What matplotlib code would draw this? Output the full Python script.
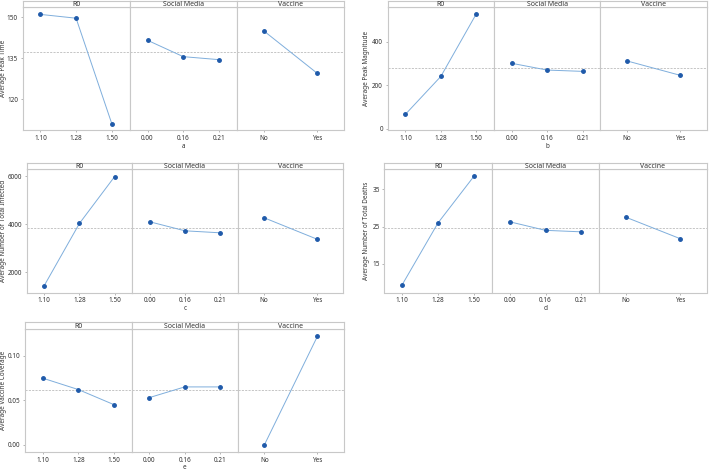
import matplotlib
matplotlib.use("Agg")
import matplotlib.pyplot as plt
import numpy as np

plt.rcParams['font.family'] = ['Noto Sans', 'DejaVu Sans']

# ---- data ----
factor_names = ["R0", "Social Media", "Vaccine"]
r0_levels = ["1.10", "1.28", "1.50"]
sm_levels = ["0.00", "0.16", "0.21"]
vac_levels = ["No", "Yes"]

peak_time_r0 = [151.1, 149.7, 111.0]
peak_time_sm = [141.6, 135.6, 134.5]
peak_time_vac = [145.1, 129.5]
peak_time_mean = 137.3

peak_mag_r0 = [66, 240, 527]
peak_mag_sm = [300, 269, 263]
peak_mag_vac = [311, 245]
peak_mag_mean = 277

infected_r0 = [1458, 4042, 5990]
infected_sm = [4108, 3733, 3650]
infected_vac = [4275, 3387]
infected_mean = 3830

deaths_r0 = [9.4, 26.0, 38.5]
deaths_sm = [26.3, 24.0, 23.6]
deaths_vac = [27.5, 21.8]
deaths_mean = 24.6

vcov_r0 = [0.0747, 0.062, 0.0452]
vcov_sm = [0.053, 0.065, 0.065]
vcov_vac = [0.0, 0.1217]
vcov_mean = 0.0612

ylabels = ["Average Peak Time", "Average Peak Magnitude",
           "Average Number of Total Infected", "Average Number of Total Deaths",
           "Average Vaccine Coverage"]
xlabels = ["a", "b", "c", "d", "e"]

W, H = 709, 472
fig = plt.figure(figsize=(W / 100, H / 100), dpi=100)

GRID = "#C8C8C8"
LINE = "#7FAEDC"
MARK = "#1F5AAA"
TXT = "#333333"
FS = 4.6

charts = [
    dict(series=[peak_time_r0, peak_time_sm, peak_time_vac], mean=peak_time_mean, ylx=4, xlo=16,
         box=(22.5, 344, 0.8, 7.3, 130), ylim=(108.7, 153.7), yticks=[120, 135, 150], fmt="{:.0f}"),
    dict(series=[peak_mag_r0, peak_mag_sm, peak_mag_vac], mean=peak_mag_mean, ylx=367, xlo=16,
         box=(387.7, 706.7, 0.8, 7.3, 130), ylim=(-6, 557), yticks=[0, 200, 400], fmt="{:.0f}"),
    dict(series=[infected_r0, infected_sm, infected_vac], mean=infected_mean, ylx=4, xlo=16,
         box=(26.7, 343.3, 162.7, 169.3, 292.5), ylim=(1167, 6292), yticks=[2000, 4000, 6000], fmt="{:.0f}"),
    dict(series=[deaths_r0, deaths_sm, deaths_vac], mean=deaths_mean, ylx=367, xlo=16,
         box=(384.3, 706.7, 162.7, 169.3, 292.5), ylim=(7.3, 40.4), yticks=[15, 25, 35], fmt="{:.0f}"),
    dict(series=[vcov_r0, vcov_sm, vcov_vac], mean=vcov_mean, ylx=4, xlo=15.5,
         box=(25.3, 344, 322, 329.3, 452.3), ylim=(-0.0082, 0.1295), yticks=[0.0, 0.05, 0.10], fmt="{:.2f}"),
]
level_sets = [r0_levels, sm_levels, vac_levels]

for ci, ch in enumerate(charts):
    x0, x1, ytop, ystrip, ybot = ch["box"]
    pw = (x1 - x0) / 3.0
    for pi in range(3):
        lx = x0 + pi * pw
        ax = fig.add_axes([lx / W, 1 - ybot / H, pw / W, (ybot - ystrip) / H])
        sax = fig.add_axes([lx / W, 1 - ystrip / H, pw / W, (ystrip - ytop) / H])
        sax.set_xticks([]); sax.set_yticks([])
        for s in sax.spines.values():
            s.set_color(GRID); s.set_linewidth(0.8)
        sax.text(0.5, 0.45, factor_names[pi], ha="center", va="center",
                 fontsize=FS + 0.4, color=TXT, transform=sax.transAxes)

        levels = level_sets[pi]
        vals = ch["series"][pi]
        xs = np.arange(len(levels))
        ax.axhline(ch["mean"], color="#BBBBBB", lw=0.6, ls=(0, (2.5, 1.5)), zorder=1)
        ax.plot(xs, vals, color=LINE, lw=0.7, zorder=2)
        ax.plot(xs, vals, ls="none", marker="o", ms=2.5, color=MARK, mec=MARK, zorder=3)
        ax.set_xlim(-0.5, len(levels) - 0.5)
        ax.set_ylim(*ch["ylim"])
        ax.set_xticks(xs)
        ax.set_xticklabels(levels)
        for s in ax.spines.values():
            s.set_color(GRID); s.set_linewidth(0.8)
        ax.tick_params(axis="x", length=1.5, width=0.5, color="#999999", pad=1.8,
                       labelsize=FS, labelcolor=TXT)
        if pi == 0:
            ax.set_yticks(ch["yticks"])
            ax.set_yticklabels([ch["fmt"].format(v) for v in ch["yticks"]])
            ax.tick_params(axis="y", length=1.5, width=0.5, color="#999999", pad=1.8,
                           labelsize=FS, labelcolor=TXT)
        else:
            ax.set_yticks([])
    fig.text(((x0 + x1) / 2) / W, 1 - (ybot + ch["xlo"]) / H, xlabels[ci],
             ha="center", va="center", fontsize=FS, color=TXT)
    fig.text(ch["ylx"] / W, 1 - ((ystrip + ybot) / 2) / H, ylabels[ci], rotation=90,
             ha="center", va="center", fontsize=FS, color=TXT)

fig.savefig("out.png", dpi=100)
